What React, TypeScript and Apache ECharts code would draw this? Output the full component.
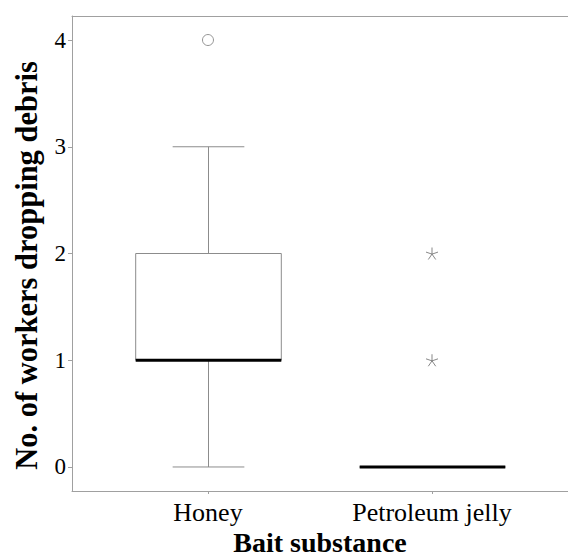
import React, { useEffect, useRef } from "react";
import * as echarts from "echarts";

const categories = ["Honey", "Petroleum jelly"];
const lowerWhisker = [0, 0];
const firstQuartile = [1, 0];
const medians = [1, 0];
const thirdQuartile = [2, 0];
const upperWhisker = [3, 0];
const outlierCategory = ["Honey"];
const outlierValue = [4];
const extremeCategory = ["Petroleum jelly", "Petroleum jelly"];
const extremeValue = [1, 2];
const yTicks = [0, 1, 2, 3, 4];

const FONT = "Liberation Serif, Times New Roman, Times, serif";
const FRAME = "#a0a0a0";
const BOX_W = 0.65;
const CAP_W = 0.32;

const STAR =
  "path://M10 10 L10 0 M10 10 L19.51 6.91 M10 10 L15.88 18.09 M10 10 L4.12 18.09 M10 10 L0.49 6.91";

export default function App() {
  const ref = useRef<HTMLDivElement>(null);
  useEffect(() => {
    if (!ref.current) return;
    const chart = echarts.init(ref.current, undefined, { renderer: "svg" });
    const boxData = categories.map((c, i) => [
      i + 1,
      lowerWhisker[i],
      firstQuartile[i],
      medians[i],
      thirdQuartile[i],
      upperWhisker[i],
    ]);
    const outliers = outlierCategory.map((c, i) => [categories.indexOf(c) + 1, outlierValue[i]]);
    const extremes = extremeCategory.map((c, i) => [categories.indexOf(c) + 1, extremeValue[i]]);
    const catPositions = categories.map((_, i) => i + 1);

    chart.setOption({
      animation: false,
      backgroundColor: "#fff",
      grid: {
        left: 72,
        right: 0,
        top: 16,
        bottom: 66,
        show: false,
        containLabel: false,
        outerBoundsMode: "none",
      },
      xAxis: [
        {
          type: "value",
          min: 0.393,
          max: 2.607,
          position: "bottom",
          name: "Bait substance",
          nameLocation: "middle",
          nameGap: 37,
          nameMoveOverlap: false,
          nameTextStyle: { fontFamily: FONT, fontSize: 28, fontWeight: "bold", color: "#000" },
          axisLine: { show: true, onZero: false, lineStyle: { color: FRAME, width: 1 } },
          axisTick: { show: true, length: 3, customValues: catPositions, lineStyle: { color: FRAME } },
          axisLabel: {
            customValues: catPositions,
            formatter: (v: number) => categories[Math.round(v) - 1] ?? "",
            fontFamily: FONT,
            fontSize: 26,
            color: "#000",
            margin: 8,
          },
          splitLine: { show: false },
        },
        {
          type: "value",
          min: 0.393,
          max: 2.607,
          position: "top",
          axisLine: { show: true, onZero: false, lineStyle: { color: FRAME, width: 1 } },
          axisTick: { show: false },
          axisLabel: { show: false },
          splitLine: { show: false },
        },
      ],
      yAxis: {
        type: "value",
        min: -0.225,
        max: 4.225,
        name: "No. of workers dropping debris",
        nameLocation: "middle",
        nameGap: 30,
        nameTextStyle: {
          fontFamily: FONT,
          fontSize: 30.5,
          fontWeight: "bold",
          color: "#000",
          padding: [0, 24, 0, 0],
        },
        axisLine: { show: true, onZero: false, lineStyle: { color: FRAME, width: 1 } },
        axisTick: { show: true, length: 4, customValues: yTicks, lineStyle: { color: FRAME } },
        axisLabel: {
          customValues: yTicks,
          fontFamily: FONT,
          fontSize: 23,
          color: "#000",
          margin: 6,
        },
        splitLine: { show: false },
      },
      series: [
        {
          type: "custom",
          xAxisIndex: 0,
          data: boxData,
          renderItem: (params: any, api: any) => {
            const x = api.value(0);
            const lo = api.coord([x, api.value(1)]);
            const q1 = api.coord([x, api.value(2)]);
            const med = api.coord([x, api.value(3)]);
            const q3 = api.coord([x, api.value(4)]);
            const hi = api.coord([x, api.value(5)]);
            const half = api.size([BOX_W, 0])[0] / 2;
            const capHalf = api.size([CAP_W, 0])[0] / 2;
            const cx = Math.round(lo[0]) + 0.5;
            const grey = { stroke: "#8c8c8c", lineWidth: 1 };
            return {
              type: "group",
              children: [
                { type: "line", shape: { x1: cx, y1: q3[1], x2: cx, y2: hi[1] }, style: grey },
                { type: "line", shape: { x1: cx, y1: q1[1], x2: cx, y2: lo[1] }, style: grey },
                { type: "line", shape: { x1: cx - capHalf, y1: hi[1], x2: cx + capHalf, y2: hi[1] }, style: grey },
                { type: "line", shape: { x1: cx - capHalf, y1: lo[1], x2: cx + capHalf, y2: lo[1] }, style: grey },
                {
                  type: "rect",
                  shape: { x: cx - half, y: q3[1], width: 2 * half, height: q1[1] - q3[1] },
                  style: { fill: "#fff", stroke: "#8c8c8c", lineWidth: 1 },
                },
                {
                  type: "line",
                  shape: { x1: cx - half, y1: med[1], x2: cx + half, y2: med[1] },
                  style: { stroke: "#000", lineWidth: 3 },
                },
              ],
            };
          },
          z: 2,
        },
        {
          type: "scatter",
          data: outliers,
          symbol: "circle",
          symbolSize: 11,
          itemStyle: { color: "#fff", borderColor: "#7a7a7a", borderWidth: 1 },
          z: 3,
        },
        {
          type: "scatter",
          data: extremes,
          symbol: STAR,
          symbolSize: 12,
          itemStyle: { color: "none", borderColor: "#6a6a6a", borderWidth: 1 },
          z: 3,
        },
      ],
    });
    return () => chart.dispose();
  }, []);
  return <div ref={ref} style={{ position: "fixed", left: 0, top: 0, width: 568, height: 557 }} />;
}
